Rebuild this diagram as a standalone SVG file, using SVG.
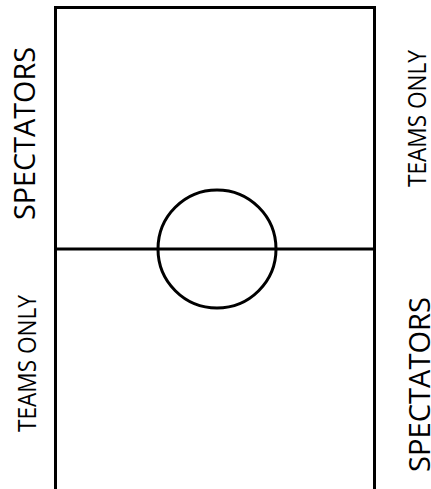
<svg xmlns="http://www.w3.org/2000/svg" width="431" height="489" viewBox="0 0 431 489">
<style>
.line{fill:none;stroke:#000;stroke-width:3}
.lbl{font-family:"Open Sans","Liberation Sans",sans-serif;fill:#000;text-anchor:middle}
.big{font-size:30px}
.small{font-size:25px}
</style>
<rect width="431" height="489" fill="#fff"/>
<g id="field">
<rect class="line" x="55.5" y="7.5" width="319" height="483"/>
<line class="line" x1="55.5" y1="249" x2="374.5" y2="249"/>
<circle class="line" cx="217" cy="249" r="59"/>
</g>
<g id="label-left-top"><text class="lbl big" transform="translate(35,133.5) rotate(-90)" textLength="173" lengthAdjust="spacingAndGlyphs">SPECTATORS</text></g>
<g id="label-left-bottom"><text class="lbl small" transform="translate(36,363.5) rotate(-90)" textLength="137" lengthAdjust="spacingAndGlyphs">TEAMS ONLY</text></g>
<g id="label-right-top"><text class="lbl small" transform="translate(426,118.5) rotate(-90)" textLength="137" lengthAdjust="spacingAndGlyphs">TEAMS ONLY</text></g>
<g id="label-right-bottom"><text class="lbl big" transform="translate(430,384.5) rotate(-90)" textLength="175" lengthAdjust="spacingAndGlyphs">SPECTATORS</text></g>
</svg>
